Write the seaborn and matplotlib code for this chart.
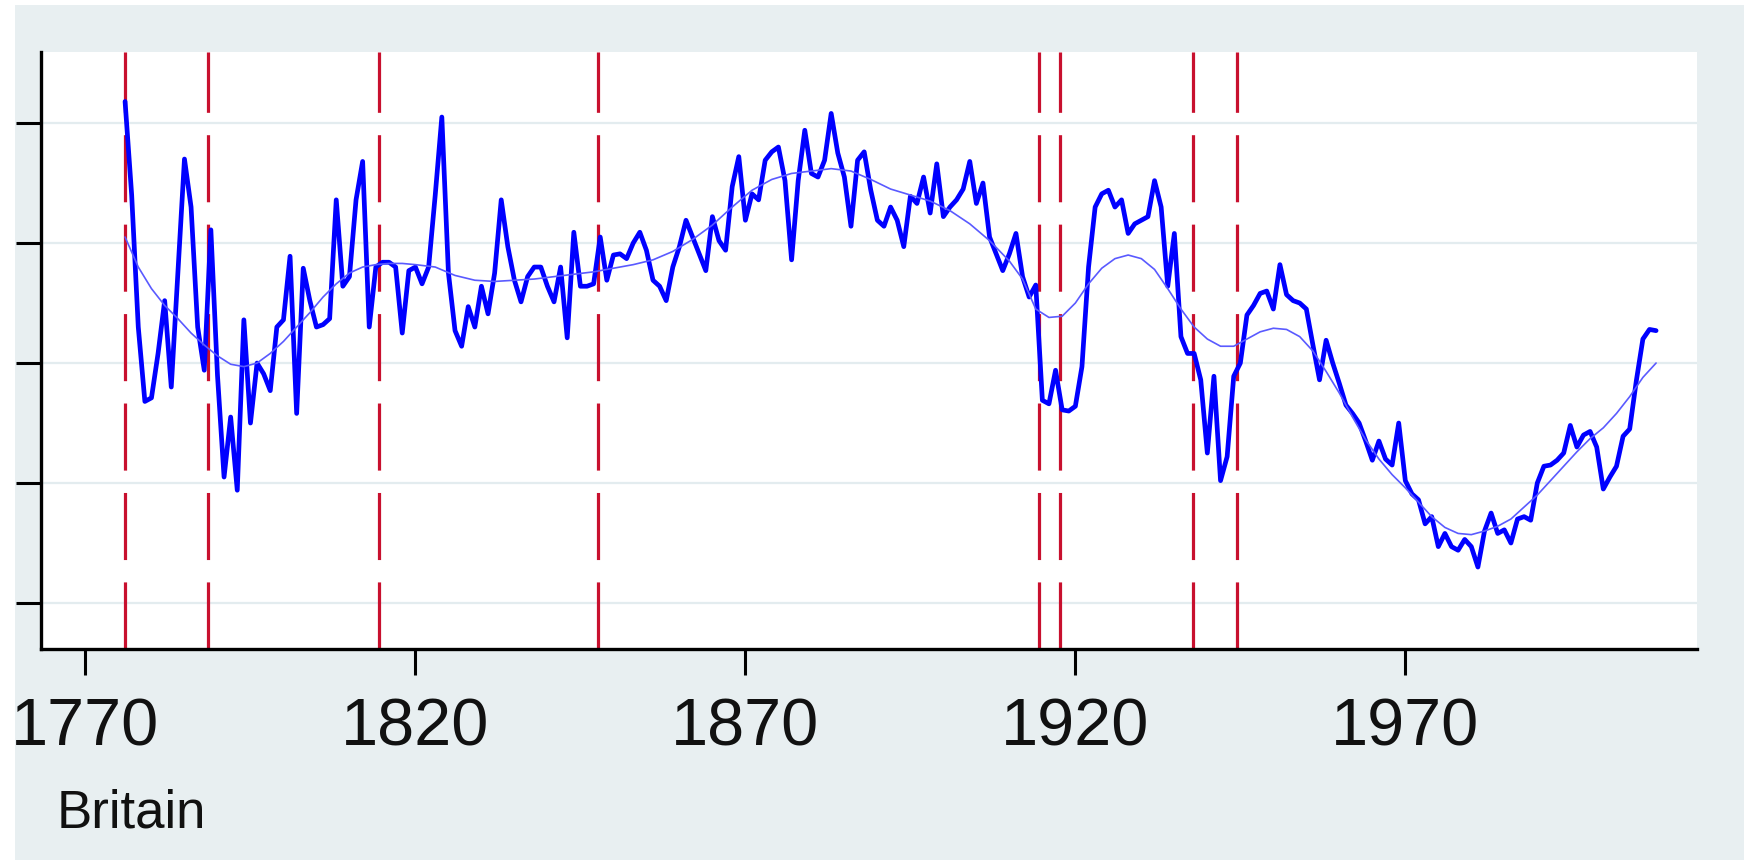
import matplotlib
matplotlib.use("Agg")
import matplotlib.pyplot as plt
from matplotlib.patches import Rectangle
import pandas as pd
import seaborn as sns

# annual series, Britain 1776-2008 (unlabelled y scale)
years = list(range(1776, 2009))
index_values = [
    5.18, 4.40, 3.30, 2.68, 2.71, 3.08, 3.52, 2.80, 3.75, 4.70, 4.30, 3.30, 2.94, 4.11,  # 1776-1789
    2.90, 2.05, 2.55, 1.94, 3.36, 2.50, 3.00, 2.91, 2.77, 3.30,  # 1790s
    3.36, 3.89, 2.58, 3.79, 3.52, 3.30, 3.32, 3.37, 4.36, 3.64,  # 1800s
    3.72, 4.36, 4.68, 3.30, 3.80, 3.84, 3.84, 3.80, 3.25, 3.77,  # 1810s
    3.80, 3.66, 3.80, 4.40, 5.05, 3.75, 3.27, 3.14, 3.47, 3.30,  # 1820s
    3.64, 3.41, 3.75, 4.36, 3.97, 3.69, 3.51, 3.72, 3.80, 3.80,  # 1830s
    3.64, 3.51, 3.80, 3.21, 4.09, 3.64, 3.64, 3.66, 4.05, 3.69,  # 1840s
    3.90, 3.91, 3.87, 4.00, 4.09, 3.94, 3.69, 3.64, 3.52, 3.80,  # 1850s
    3.97, 4.19, 4.05, 3.91, 3.77, 4.22, 4.02, 3.94, 4.47, 4.72,  # 1860s
    4.19, 4.41, 4.36, 4.69, 4.76, 4.80, 4.52, 3.86, 4.52, 4.94,  # 1870s
    4.58, 4.55, 4.69, 5.08, 4.75, 4.55, 4.14, 4.69, 4.76, 4.44,  # 1880s
    4.19, 4.14, 4.30, 4.19, 3.97, 4.39, 4.33, 4.55, 4.25, 4.66,  # 1890s
    4.22, 4.30, 4.36, 4.45, 4.68, 4.33, 4.50, 4.05, 3.91, 3.77,  # 1900s
    3.91, 4.08, 3.72, 3.55, 3.65, 2.69, 2.66, 2.94, 2.61, 2.60,  # 1910s
    2.64, 2.97, 3.80, 4.30, 4.41, 4.44, 4.30, 4.36, 4.08, 4.16,  # 1920s
    4.19, 4.22, 4.52, 4.30, 3.64, 4.08, 3.22, 3.08, 3.08, 2.86,  # 1930s
    2.25, 2.89, 2.02, 2.22, 2.89, 3.00, 3.40, 3.48, 3.58, 3.60,  # 1940s
    3.45, 3.82, 3.57, 3.52, 3.50, 3.45, 3.15, 2.86, 3.19, 3.00,  # 1950s
    2.83, 2.65, 2.58, 2.50, 2.35, 2.19, 2.35, 2.20, 2.15, 2.50,  # 1960s
    2.02, 1.91, 1.86, 1.66, 1.72, 1.47, 1.58, 1.47, 1.44, 1.53,  # 1970s
    1.47, 1.30, 1.60, 1.75, 1.58, 1.61, 1.50, 1.70, 1.72, 1.69,  # 1980s
    2.00, 2.14, 2.15, 2.19, 2.25, 2.48, 2.30, 2.40, 2.43, 2.30,  # 1990s
    1.95, 2.05, 2.14, 2.39, 2.45, 2.85, 3.20, 3.28, 3.27,        # 2000-2008
]

# smooth trend line
trend_years = [
    1776, 1778, 1780, 1782, 1784, 1786, 1788, 1790, 1792, 1794, 1796, 1798,
    1800, 1802, 1804, 1806, 1808, 1810, 1812, 1814, 1816, 1818, 1820, 1823,
    1826, 1829, 1832, 1835, 1838, 1841, 1844, 1847, 1850, 1853, 1856, 1859,
    1862, 1865, 1868, 1871, 1874, 1877, 1880, 1883, 1886, 1889, 1892, 1895,
    1898, 1901, 1904, 1907, 1910, 1912, 1914, 1916, 1918, 1920, 1922, 1924,
    1926, 1928, 1930, 1932, 1934, 1936, 1938, 1940, 1942, 1944, 1946, 1948,
    1950, 1952, 1954, 1956, 1958, 1960, 1962, 1964, 1966, 1968, 1970, 1972,
    1974, 1976, 1978, 1980, 1982, 1984, 1986, 1988, 1990, 1992, 1994, 1996,
    1998, 2000, 2002, 2004, 2006, 2008,
]
trend_values = [
    4.05, 3.80, 3.62, 3.48, 3.37, 3.25, 3.15, 3.06, 2.99, 2.97, 3.00, 3.08,
    3.18, 3.30, 3.42, 3.55, 3.66, 3.75, 3.80, 3.82, 3.83, 3.83, 3.82, 3.80,
    3.73, 3.69, 3.68, 3.69, 3.70, 3.72, 3.74, 3.76, 3.79, 3.82, 3.86, 3.93,
    4.03, 4.15, 4.30, 4.44, 4.53, 4.58, 4.60, 4.62, 4.60, 4.53, 4.45, 4.40,
    4.35, 4.27, 4.16, 4.02, 3.85, 3.70, 3.45, 3.38, 3.39, 3.50, 3.66, 3.79,
    3.87, 3.90, 3.87, 3.78, 3.62, 3.45, 3.30, 3.20, 3.14, 3.14, 3.20, 3.26,
    3.29, 3.28, 3.22, 3.10, 2.93, 2.75, 2.55, 2.36, 2.20, 2.07, 1.96, 1.84,
    1.72, 1.63, 1.58, 1.57, 1.60, 1.64, 1.70, 1.80, 1.90, 2.02, 2.14, 2.26,
    2.37, 2.46, 2.58, 2.72, 2.88, 3.00,
]

# dashed red reference lines
event_years = [1776, 1788.5, 1814.5, 1847.7, 1914.5, 1917.6, 1937.8, 1944.5]
x_ticks = [1770, 1820, 1870, 1920, 1970]
y_ticks = [1, 2, 3, 4, 5]
panel_label = "Britain"

BG = "#E8EFF1"
GRID = "#E3ECEF"

sns.set_style("ticks")
plt.rcParams["font.family"] = ["Liberation Sans", "DejaVu Sans"]

fig = plt.figure(figsize=(17.44, 8.60), dpi=100, facecolor="white")
# light bluish-gray graph region, with a thin white margin on the left/top
fig.patches.append(Rectangle((15 / 1744, 0), 1, 855 / 860, transform=fig.transFigure,
                             facecolor=BG, edgecolor="none", zorder=-10))
ax = fig.add_axes([41 / 1744, 211 / 860, 1656 / 1744, 597 / 860])
ax.set_facecolor("white")

for yt in y_ticks:
    ax.axhline(yt, color=GRID, lw=1.6, zorder=1)

for ev in event_years:
    ax.axvline(ev, color="#C8102E", lw=2.3, dashes=(21, 7), zorder=2)

df = pd.DataFrame({"year": years, "value": index_values})
df_trend = pd.DataFrame({"year": trend_years, "value": trend_values})
sns.lineplot(data=df, x="year", y="value", ax=ax, color="#0000FF", lw=3.4, zorder=3)
sns.lineplot(data=df_trend, x="year", y="value", ax=ax, color="#5A5AFF", lw=1.2, zorder=4)

ax.set_xlim(1763.26, 2014.2)
ax.set_ylim(0.617, 5.592)
ax.set_xticks(x_ticks)
ax.set_yticks(y_ticks)
ax.set_xlabel("")
ax.set_ylabel("")
ax.tick_params(axis="x", length=19, width=2.2, color="black", labelsize=48,
               labelcolor="#111111", pad=16)
ax.tick_params(axis="y", length=18, width=2.2, color="black", labelleft=False)
for side in ["top", "right"]:
    ax.spines[side].set_visible(False)
for side in ["left", "bottom"]:
    ax.spines[side].set_linewidth(2.4)
    ax.spines[side].set_color("black")

fig.text(57 / 1744, 32 / 860, panel_label, fontsize=38, ha="left", va="baseline", color="#111111")

fig.savefig("out.png", dpi=100, facecolor=fig.get_facecolor())
